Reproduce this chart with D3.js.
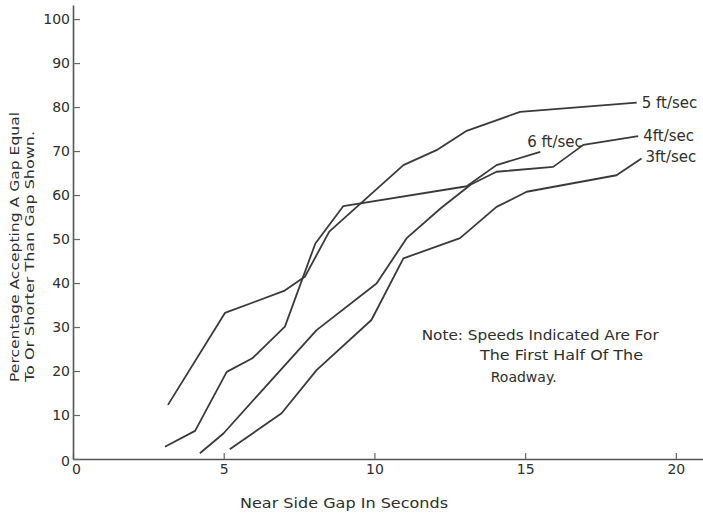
<!DOCTYPE html>
<html>
<head>
<meta charset="utf-8">
<script src="https://cdn.jsdelivr.net/npm/d3@7/dist/d3.min.js"></script>
<style>
  html, body { margin: 0; padding: 0; background: #ffffff; }
  svg { display: block; }
  text { font-family: "DejaVu Sans", "Liberation Sans", sans-serif; fill: #2e2e2e; }
</style>
</head>
<body>
<svg id="chart" width="703" height="514"></svg>
<script>
// Gap acceptance curves: [near side gap (s), % accepting a gap <= shown]
const speed5 = [[3.15,12.3],[5.04,33.2],[7,38.2],[7.7,41.5],[8.5,51.7],[10.96,66.8],[12.06,70.2],[13.06,74.6],[14.83,78.9],[18.7,81]];
const speed6 = [[3.05,2.8],[4.05,6.4],[5.1,19.8],[5.95,22.9],[7.03,30.1],[8.04,49],[8.97,57.5],[13.06,62],[14.05,66.8],[15.5,69.8]];
const speed4 = [[4.21,1.3],[4.99,5.8],[6.09,14.2],[8.08,29.3],[10.07,39.9],[11.07,50.2],[12.2,57],[13.2,62.4],[14.05,65.3],[15.93,66.4],[16.93,71.4],[18.75,73.4]];
const speed3 = [[5.2,2.2],[6.92,10.4],[8.08,20.2],[9.9,31.6],[10.96,45.6],[12.84,50.2],[14.05,57.3],[15.05,60.75],[18.03,64.5],[18.86,68.3]];

const seriesLabels = ["5 ft/sec", "6 ft/sec", "4ft/sec", "3ft/sec"];
const xTicks = [0, 5, 10, 15, 20];
const yTicks = [0, 10, 20, 30, 40, 50, 60, 70, 80, 90, 100];
const xTitle = "Near Side Gap In Seconds";
const yTitle = ["Percentage  Accepting  A  Gap  Equal", "To  Or  Shorter  Than  Gap  Shown."];
const note = ["Note:  Speeds  Indicated Are  For", "The First  Half  Of  The", "Roadway."];

const svg = d3.select("#chart");
const ink = "#3a3a3a";

const x = d3.scaleLinear().domain([0, 20.9]).range([73, 703]);
const y = d3.scaleLinear().domain([0, 103.2]).range([459, 5]);

// axes: ticks point into the plot area
const xAxis = d3.axisBottom(x).tickValues(xTicks).tickSizeInner(-6).tickSizeOuter(0).tickPadding(5).tickFormat(d3.format("d"));
const yAxis = d3.axisLeft(y).tickValues(yTicks).tickSizeInner(-7).tickSizeOuter(0).tickPadding(3).tickFormat(d3.format("d"));

const gx = svg.append("g").attr("transform", `translate(0,${y(0)})`).call(xAxis);
const gy = svg.append("g").attr("transform", `translate(${x(0)},0)`).call(yAxis);
[gx, gy].forEach(g => {
  g.select(".domain").attr("stroke", "#555").attr("stroke-width", 1.6);
  g.selectAll(".tick line").attr("stroke", "#666").attr("stroke-width", 1.2);
  g.selectAll(".tick text").attr("font-size", 14).attr("fill", "#2e2e2e")
    .style("font-family", '"DejaVu Sans", sans-serif');
});
// the x-axis "0" sits just right of the origin
gx.selectAll(".tick text").filter(d => d === 0).attr("dx", 3);
gy.selectAll(".tick text").filter(d => d === 0).attr("dy", "0.45em");

// curves
const line = d3.line().x(d => x(d[0])).y(d => y(d[1]));
const allSeries = [speed5, speed6, speed4, speed3];
svg.append("g").selectAll("path").data(allSeries).join("path")
  .attr("d", line)
  .attr("fill", "none")
  .attr("stroke", ink)
  .attr("stroke-width", 1.8)
  .attr("stroke-linejoin", "round");

// series labels placed off each curve's last point
const labelOffsets = [[5, 0], [-13, -10], [5, 0], [4, -2]];
const labelAnchor = ["start", "start", "start", "start"];
svg.append("g").selectAll("text").data(allSeries).join("text")
  .attr("x", (d, i) => x(d[d.length - 1][0]) + labelOffsets[i][0])
  .attr("y", (d, i) => y(d[d.length - 1][1]) + labelOffsets[i][1])
  .attr("dy", "0.35em")
  .attr("text-anchor", (d, i) => labelAnchor[i])
  .attr("font-size", 15)
  .text((d, i) => seriesLabels[i]);

// axis titles
svg.append("text")
  .attr("x", 240).attr("y", 508)
  .attr("font-size", 14)
  .attr("textLength", 208).attr("lengthAdjust", "spacingAndGlyphs")
  .text(xTitle);

[[19, 270], [34, 251]].forEach(([bx, len], i) => {
  svg.append("text")
    .attr("transform", `translate(${bx},382) rotate(-90)`)
    .attr("font-size", 13)
    .attr("textLength", len).attr("lengthAdjust", "spacingAndGlyphs")
    .text(yTitle[i]);
});

// note
const notePos = [[421.7, 340, 237], [480, 360, 163], [490.7, 382, 66]];
note.forEach((t, i) => {
  svg.append("text")
    .attr("x", notePos[i][0]).attr("y", notePos[i][1])
    .attr("font-size", 14)
    .attr("textLength", notePos[i][2]).attr("lengthAdjust", "spacingAndGlyphs")
    .text(t);
});
</script>
</body>
</html>
